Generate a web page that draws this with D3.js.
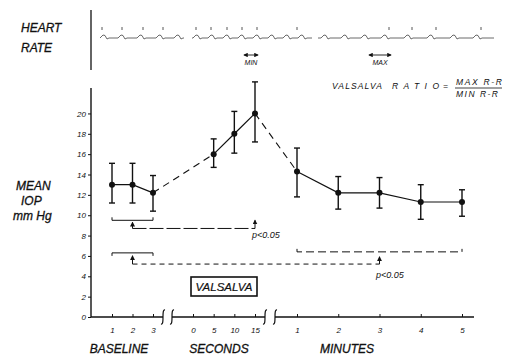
<!DOCTYPE html>
<html>
<head>
<meta charset="utf-8">
<script src="https://cdn.jsdelivr.net/npm/d3@7"></script>
<style>
  body { margin: 0; background: #fff; }
  svg text { font-family: "Liberation Sans", Arial, sans-serif; font-style: italic; fill: #111; }
</style>
</head>
<body>
<div id="chart"></div>
<script>
// ---- data ----
const baselineX = [1, 2, 3];
const baselineMean = [13, 13, 12.2];
const baselineHi = [15.1, 15.1, 13.9];
const baselineLo = [11.2, 11.2, 10.4];

const secondsX = [5, 10, 15];
const secondsMean = [16, 18, 20];
const secondsHi = [17.5, 20.2, 23.1];
const secondsLo = [14.7, 16.1, 17.2];

const minutesX = [1, 2, 3, 4, 5];
const minutesMean = [14.3, 12.2, 12.2, 11.3, 11.3];
const minutesHi = [16.6, 13.8, 13.7, 13.0, 12.5];
const minutesLo = [11.8, 10.6, 10.7, 9.6, 9.9];

const yTicks = [0, 2, 4, 6, 8, 10, 12, 14, 16, 18, 20];
const baselineTicks = [1, 2, 3];
const secondsTicks = [0, 5, 10, 15];
const minutesTicks = [1, 2, 3, 4, 5];
const groupLabels = ["BASELINE", "SECONDS", "MINUTES"];

// heart rate strip (trace units along the strip)
const hrSegments = [[0, 84], [92, 212], [218, 394]];
const hrBeats = [4, 22, 41, 60, 78, 97, 112, 127, 142, 157, 172, 187, 202, 225, 245, 265, 285, 308, 331, 354, 377];
const hrPeaks = [2, 22, 43, 63, 96, 111, 127, 142, 157, 197, 289, 312, 336, 381];

// ---- layout ----
const width = 508, height = 355;
const axisX = 91;

const svg = d3.select("#chart").append("svg")
  .attr("width", width).attr("height", height);

svg.append("defs").append("marker")
  .attr("id", "arr").attr("viewBox", "0 0 6 6")
  .attr("refX", 5).attr("refY", 3)
  .attr("markerWidth", 5).attr("markerHeight", 5)
  .attr("orient", "auto-start-reverse")
  .append("path").attr("d", "M0,0 L6,3 L0,6 Z").attr("fill", "#111");

const y = d3.scaleLinear().domain([0, 22.5]).range([317, 88]);
const xBase = d3.scaleLinear().domain([1, 3]).range([112, 153]);
const xSec = d3.scaleLinear().domain([0, 15]).range([193, 255]);
const xMin = d3.scaleLinear().domain([1, 5]).range([297, 462]);

// ---- y axis ----
svg.append("line").attr("x1", axisX).attr("x2", axisX)
  .attr("y1", y.range()[1]).attr("y2", y(0))
  .attr("stroke", "#111").attr("stroke-width", 1.4);

const yAxisG = svg.append("g").attr("transform", `translate(${axisX},0)`)
  .call(d3.axisLeft(y).tickValues(yTicks).tickSize(3).tickPadding(2));
yAxisG.select(".domain").remove();
yAxisG.selectAll("text").attr("font-size", 8).style("font-family", "Liberation Sans, Arial, sans-serif");
yAxisG.selectAll("line").attr("stroke", "#111");

// ---- x axis pieces with breaks ----
const axisY = y(0);
const axisPieces = [[axisX, 163], [172, 265], [275, 474]];
svg.selectAll("line.xaxis").data(axisPieces).join("line")
  .attr("class", "xaxis")
  .attr("x1", d => d[0]).attr("x2", d => d[1])
  .attr("y1", axisY).attr("y2", axisY)
  .attr("stroke", "#111").attr("stroke-width", 1.3);

const breaks = [163, 172, 265, 275];
svg.selectAll("path.brk").data(breaks).join("path")
  .attr("class", "brk")
  .attr("d", d => `M${d - 2},${axisY + 7} C${d + 2},${axisY + 8} ${d - 2},${axisY - 8} ${d + 2},${axisY - 7}`)
  .attr("fill", "none").attr("stroke", "#111").attr("stroke-width", 1.2);

function xTicks(scale, vals) {
  const g = svg.append("g").attr("transform", `translate(0,${axisY})`)
    .call(d3.axisBottom(scale).tickValues(vals).tickSize(-3).tickPadding(10).tickFormat(d3.format("d")));
  g.select(".domain").remove();
  g.selectAll("text").attr("font-size", 8).style("font-family", "Liberation Sans, Arial, sans-serif");
  g.selectAll("line").attr("stroke", "#111");
}
xTicks(xBase, baselineTicks);
xTicks(xSec, secondsTicks);
xTicks(xMin, minutesTicks);

const groupCenters = [119, 219, 347];
svg.selectAll("text.grp").data(groupLabels).join("text")
  .attr("class", "grp")
  .attr("x", (d, i) => groupCenters[i]).attr("y", 353)
  .attr("text-anchor", "middle").attr("font-size", 12)
  .attr("stroke", "#111").attr("stroke-width", 0.3)
  .text(d => d);

// ---- series ----
function pts(xs, scale, mean, hi, lo) {
  return xs.map((v, i) => ({ x: scale(v), m: mean[i], hi: hi[i], lo: lo[i] }));
}
const basePts = pts(baselineX, xBase, baselineMean, baselineHi, baselineLo);
const secPts = pts(secondsX, xSec, secondsMean, secondsHi, secondsLo);
const minPts = pts(minutesX, xMin, minutesMean, minutesHi, minutesLo);
const allPts = basePts.concat(secPts, minPts);

const line = d3.line().x(d => d.x).y(d => y(d.m));
[basePts, secPts, minPts].forEach(s => {
  svg.append("path").datum(s).attr("d", line)
    .attr("fill", "none").attr("stroke", "#111").attr("stroke-width", 1.2);
});
// dashed joins between periods
[[basePts[2], secPts[0]], [secPts[2], minPts[0]]].forEach(s => {
  svg.append("path").datum(s).attr("d", line)
    .attr("fill", "none").attr("stroke", "#111").attr("stroke-width", 1.1)
    .attr("stroke-dasharray", "7,5");
});

const eb = svg.append("g").attr("stroke", "#111").attr("stroke-width", 1.4);
eb.selectAll("line.v").data(allPts).join("line").attr("class", "v")
  .attr("x1", d => d.x).attr("x2", d => d.x)
  .attr("y1", d => y(d.hi)).attr("y2", d => y(d.lo));
eb.selectAll("line.t").data(allPts).join("line").attr("class", "t")
  .attr("x1", d => d.x - 3).attr("x2", d => d.x + 3)
  .attr("y1", d => y(d.hi)).attr("y2", d => y(d.hi));
eb.selectAll("line.b").data(allPts).join("line").attr("class", "b")
  .attr("x1", d => d.x - 3).attr("x2", d => d.x + 3)
  .attr("y1", d => y(d.lo)).attr("y2", d => y(d.lo));

svg.selectAll("circle.pt").data(allPts).join("circle").attr("class", "pt")
  .attr("cx", d => d.x).attr("cy", d => y(d.m)).attr("r", 3)
  .attr("fill", "#111");

// ---- significance brackets ----
const ann = svg.append("g").attr("fill", "none").attr("stroke", "#111");
function bracket(x1, x2, yv, dir, dash) {
  const yy = y(yv);
  ann.append("path")
    .attr("d", `M${x1},${yy + dir * 3} L${x1},${yy} L${x2},${yy} L${x2},${yy + dir * 3}`)
    .attr("stroke-width", 1).attr("stroke-dasharray", dash || null);
}
function link(xFrom, yFromTop, xTo, yToTop, yLine, dash) {
  ann.append("line").attr("x1", xFrom).attr("x2", xFrom)
    .attr("y1", y(yLine)).attr("y2", y(yFromTop))
    .attr("stroke-width", 1).attr("marker-end", "url(#arr)");
  ann.append("line").attr("x1", xFrom).attr("x2", xTo)
    .attr("y1", y(yLine)).attr("y2", y(yLine))
    .attr("stroke-width", 1).attr("stroke-dasharray", dash);
  ann.append("line").attr("x1", xTo).attr("x2", xTo)
    .attr("y1", y(yLine)).attr("y2", y(yToTop))
    .attr("stroke-width", 1).attr("marker-end", "url(#arr)");
}
bracket(xBase(1), xBase(3), 9.5, -1);
link(xBase(2), 9.3, xSec(15), 9.5, 8.7, "14,3");
bracket(xBase(1), xBase(3), 6.3, 1);
link(xBase(2), 6.0, xMin(3), 5.9, 5.2, "5,4");
bracket(xMin(1), xMin(5), 6.4, -1, "8,4");

svg.append("text").attr("x", 252).attr("y", 238).attr("font-size", 9).text("p<0.05");
svg.append("text").attr("x", 376).attr("y", 278).attr("font-size", 9).text("p<0.05");

// VALSALVA box
svg.append("rect").attr("x", 191).attr("y", 277).attr("width", 66).attr("height", 19)
  .attr("fill", "none").attr("stroke", "#111").attr("stroke-width", 1.6);
svg.append("text").attr("x", 224).attr("y", 291).attr("text-anchor", "middle")
  .attr("font-size", 11.5).attr("stroke", "#111").attr("stroke-width", 0.2).text("VALSALVA");

// ---- left labels ----
const leftLabels = [["HEART", 21, 32], ["RATE", 21, 52], ["MEAN", 16, 190], ["IOP", 21, 205], ["mm Hg", 13, 220]];
svg.selectAll("text.lbl").data(leftLabels).join("text").attr("class", "lbl")
  .attr("x", d => d[1]).attr("y", d => d[2]).attr("font-size", 12)
  .attr("stroke", "#111").attr("stroke-width", 0.3).text(d => d[0]);

// ---- heart rate strip ----
svg.append("line").attr("x1", axisX).attr("x2", axisX).attr("y1", 10).attr("y2", 70)
  .attr("stroke", "#111").attr("stroke-width", 1.3);

const hr = d3.scaleLinear().domain([0, 394]).range([100, 494]);
const hrBase = 38;
const hrLine = d3.line().x(d => hr(d[0])).y(d => d[1]);
hrSegments.forEach(seg => {
  const p = [[seg[0], hrBase]];
  hrBeats.filter(b => b > seg[0] + 3 && b < seg[1] - 3).forEach(b => {
    p.push([b - 4, hrBase], [b - 1, hrBase - 3], [b + 1, hrBase - 2.5], [b + 3, hrBase + 1], [b + 5, hrBase]);
  });
  p.push([seg[1], hrBase]);
  svg.append("path").datum(p).attr("d", hrLine)
    .attr("fill", "none").attr("stroke", "#444").attr("stroke-width", 0.8);
});
svg.selectAll("line.pk").data(hrPeaks).join("line").attr("class", "pk")
  .attr("x1", d => hr(d)).attr("x2", d => hr(d))
  .attr("y1", 27).attr("y2", 30)
  .attr("stroke", "#444").attr("stroke-width", 0.9);

const hrMarks = [["MIN", 244, 258], ["MAX", 369, 391]];
hrMarks.forEach(m => {
  svg.append("line").attr("x1", m[1]).attr("x2", m[2]).attr("y1", 55).attr("y2", 55)
    .attr("stroke", "#111").attr("stroke-width", 0.9)
    .attr("marker-start", "url(#arr)").attr("marker-end", "url(#arr)");
  svg.append("text").attr("x", (m[1] + m[2]) / 2).attr("y", 65).attr("text-anchor", "middle")
    .attr("font-size", 7).text(m[0]);
});

// ratio formula
const f = svg.append("g").attr("font-size", 8.5);
f.append("text").attr("x", 332).attr("y", 89).attr("textLength", 50).attr("lengthAdjust", "spacing").text("VALSALVA");
f.append("text").attr("x", 392).attr("y", 89).attr("textLength", 47).attr("lengthAdjust", "spacing").text("RATIO");
f.append("text").attr("x", 443).attr("y", 89).text("=");
f.append("text").attr("x", 456).attr("y", 85).attr("textLength", 46).attr("lengthAdjust", "spacing").text("MAX R-R");
f.append("line").attr("x1", 455).attr("x2", 502).attr("y1", 88).attr("y2", 88)
  .attr("stroke", "#111").attr("stroke-width", 0.8);
f.append("text").attr("x", 456).attr("y", 97).attr("textLength", 42).attr("lengthAdjust", "spacing").text("MIN R-R");
</script>
</body>
</html>
